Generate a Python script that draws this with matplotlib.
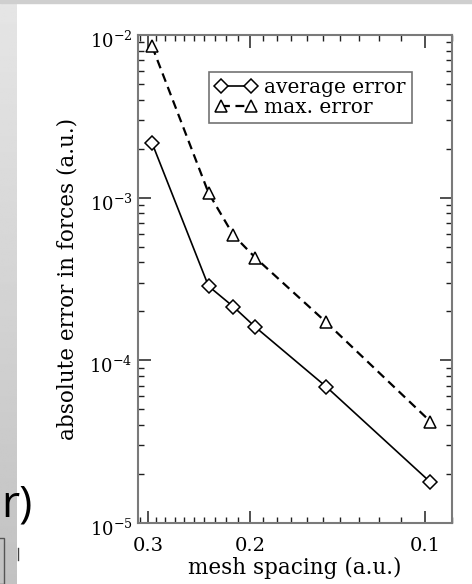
import matplotlib
matplotlib.use("Agg")
import matplotlib.pyplot as plt
import matplotlib.transforms as mtransforms
import numpy as np
from matplotlib.ticker import FixedLocator, FixedFormatter, LogLocator, NullFormatter
from matplotlib.patches import Rectangle
from matplotlib.lines import Line2D

# data
spacing = [0.295, 0.236, 0.214, 0.196, 0.148, 0.098]
avg_err = [2.16e-3, 2.86e-4, 2.14e-4, 1.60e-4, 6.87e-5, 1.78e-5]
max_err = [8.5e-3, 1.07e-3, 5.9e-4, 4.27e-4, 1.71e-4, 4.2e-5]
x_ticks = [0.3, 0.2, 0.1]
x_tick_labels = ["0.3", "0.2", "0.1"]
series_labels = ["average error", "max. error"]

plt.rcParams['font.family'] = ['DejaVu Serif']
plt.rcParams['mathtext.fontset'] = 'dejavuserif'

W, H = 472, 584
fig = plt.figure(figsize=(W / 100, H / 100), dpi=100)

# slide background: gray strip on the left, thin strip on top
bg = fig.add_axes([0, 0, 17 / W, 1])
grad = np.linspace(0.9, 0.76, 256).reshape(-1, 1)
bg.imshow(grad, aspect='auto', cmap='gray', vmin=0, vmax=1, extent=[0, 1, 0, 1])
bg.axis('off')
fig.patches.append(Rectangle((0, 1 - 3 / H), 1, 3 / H, transform=fig.transFigure,
                             color='#cfcfcf', zorder=0))
fig.patches.append(Rectangle((-2 / W, 0), 6 / W, (584 - 538) / H, transform=fig.transFigure,
                             fill=False, edgecolor='#555555', lw=1))
fig.add_artist(Line2D([17.5 / W, 17.5 / W], [1 - 560 / H, 1 - 548 / H],
                      transform=fig.transFigure, color='#444444', lw=1))
fig.text(1 / W, 1 - 517 / H, "r)", fontsize=32, family=['Open Sans', 'DejaVu Sans'],
         ha='left', va='baseline')

ax = fig.add_axes([138 / W, 1 - 523 / H, 314 / W, 488 / H])
ax.plot(spacing, avg_err, color='black', lw=1.2, marker='D', ms=7,
        mfc='white', mec='black', mew=1.1, label=series_labels[0])
ax.plot(spacing, max_err, color='black', lw=1.6, ls=(0, (4, 2.5)), marker='^', ms=8,
        mfc='white', mec='black', mew=1.1, label=series_labels[1])

ax.set_xscale('log')
ax.set_yscale('log')
ax.set_xlim(0.312, 0.09)
ax.set_ylim(1e-5, 1e-2)

ax.xaxis.set_major_locator(FixedLocator(x_ticks))
ax.xaxis.set_major_formatter(FixedFormatter(x_tick_labels))
minor_x = [v for v in np.round(np.arange(0.09, 0.315, 0.01), 2) if v not in x_ticks]
ax.xaxis.set_minor_locator(FixedLocator(minor_x))
ax.xaxis.set_minor_formatter(NullFormatter())
ax.yaxis.set_major_locator(LogLocator(base=10))
ax.yaxis.set_minor_locator(LogLocator(base=10, subs=np.arange(2, 10)))
ax.yaxis.set_minor_formatter(NullFormatter())

for s in ax.spines.values():
    s.set_color('#7a7a7a')
    s.set_linewidth(1.5)
ax.tick_params(which='both', direction='in', top=True, right=True, color='#202020')
ax.tick_params(which='major', length=9, width=1.1)
ax.tick_params(which='minor', length=4.5, width=1.0)
ax.tick_params(axis='x', pad=10, labelsize=14)
ax.tick_params(axis='y', pad=4, labelsize=13)

# y tick labels sit a little below their ticks in the original
shift = mtransforms.ScaledTranslation(0, -3 / 72, fig.dpi_scale_trans)
for lab in ax.get_yticklabels():
    lab.set_transform(lab.get_transform() + shift)

ax.set_xlabel("mesh spacing (a.u.)", fontsize=15.5)
ax.set_ylabel("absolute error in forces (a.u.)", fontsize=15.5)
ax.xaxis.set_label_coords(0.5, -0.07)
ax.yaxis.set_label_coords(-0.19, 0.5)

leg = ax.legend(loc='upper right', bbox_to_anchor=(0.8726, 0.924), numpoints=2,
                fontsize=14.5, frameon=True, fancybox=False, edgecolor='#505050',
                borderaxespad=0, handlelength=2.1, handletextpad=0.35,
                labelspacing=0.05, borderpad=0.3)
leg.get_frame().set_linewidth(1.2)

fig.savefig('out.png', dpi=100)
